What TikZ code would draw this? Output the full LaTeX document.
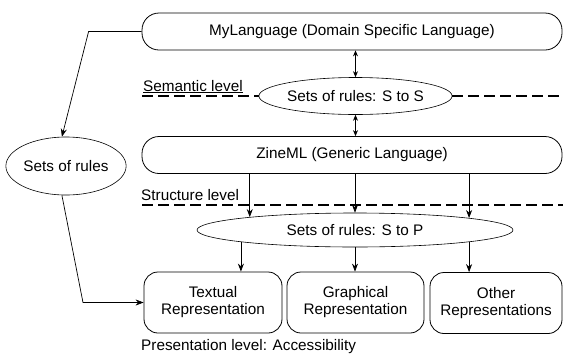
\documentclass[tikz,border=0pt]{standalone}
\usepackage{fontspec}
\setmainfont{Liberation Sans}
\usetikzlibrary{shapes.geometric,arrows.meta}
\begin{document}
\begin{tikzpicture}[x=1pt,y=-1pt,
  every node/.style={font=\fontsize{15.3}{17}\selectfont, inner sep=0pt},
  langbox/.style={draw, rounded corners=17pt, minimum width=420pt, minimum height=37pt, line width=0.8pt},
  repbox/.style={draw, rounded corners=14pt, minimum height=61pt, align=center, line width=0.8pt},
  rules/.style={draw, ellipse, line width=0.6pt},
  level/.style={anchor=base west},
  sep/.style={dash pattern=on 11pt off 5pt, line width=2.5pt},
  arr/.style={-{Stealth[length=8pt,width=6pt]}, line width=0.7pt},
  darr/.style={{Stealth[length=6pt,width=5pt]}-{Stealth[length=6pt,width=5pt]}, line width=0.7pt}
]
\useasboundingbox (0,0) rectangle (563,354);

% main language boxes
\node[langbox] (my) at (352,31.5) {MyLanguage (Domain Specific Language)};
\node[rules, minimum width=191pt, minimum height=37pt] (ss) at (355.5,96) {Sets of rules: S to S};
\node[langbox] (zine) at (352,155) {ZineML (Generic Language)};
\node[rules, minimum width=116pt, minimum height=58pt] (rules) at (66,166) {Sets of rules};
\node[rules, minimum width=316pt, minimum height=34pt] (stp) at (355,230) {Sets of rules: S to P};

% representation boxes
\node[repbox, minimum width=138pt] (tex) at (213,302.5) {Textual\\Representation};
\node[repbox, minimum width=137pt] (gra) at (355.5,302.5) {Graphical\\Representation};
\node[repbox, minimum width=132pt] (oth) at (496,303) {Other\\Representations};

% level labels
\node[level] (sem) at (143,91) {\underline{Semantic level}};
\node[level] (str) at (141,200) {Structure level};
\node[level] (pre) at (141,350) {Presentation level: Accessibility};

% level separators
\coordinate (sl) at (142,96);
\coordinate (sr) at (563,96);
\coordinate (tl) at (142,205);
\coordinate (tr) at (563,205);
\draw[sep] (sl) -- (ss.west);
\draw[sep] (ss.east) -- (sr);

% double arrows
\draw[darr] (my.south -| ss.north) -- (ss.north);
\draw[darr] (ss.south) -- (zine.north -| ss.south);

% ZineML to S to P
\draw[arr] (zine.south -| stp.173.3) -- (stp.173.3);
\draw[arr] (zine.south -| stp.north) -- (stp.north);
\draw[arr] (zine.south -| stp.6.1) -- (stp.6.1);
\draw[sep] (tl) -- (tr);

% S to P to representations
\draw[arr] (stp.186.7) -- (tex.north -| stp.186.7);
\draw[arr] (stp.south) -- (gra.north -| stp.south);
\draw[arr] (stp.-6.1) -- (oth.north -| stp.-6.1);

% left side path
\draw[arr] (my.west) -- ++(-53,0) -- (rules.98);
\draw[arr] (rules.-98) -- (83,302.5) -- (tex.west);
\end{tikzpicture}
\end{document}
